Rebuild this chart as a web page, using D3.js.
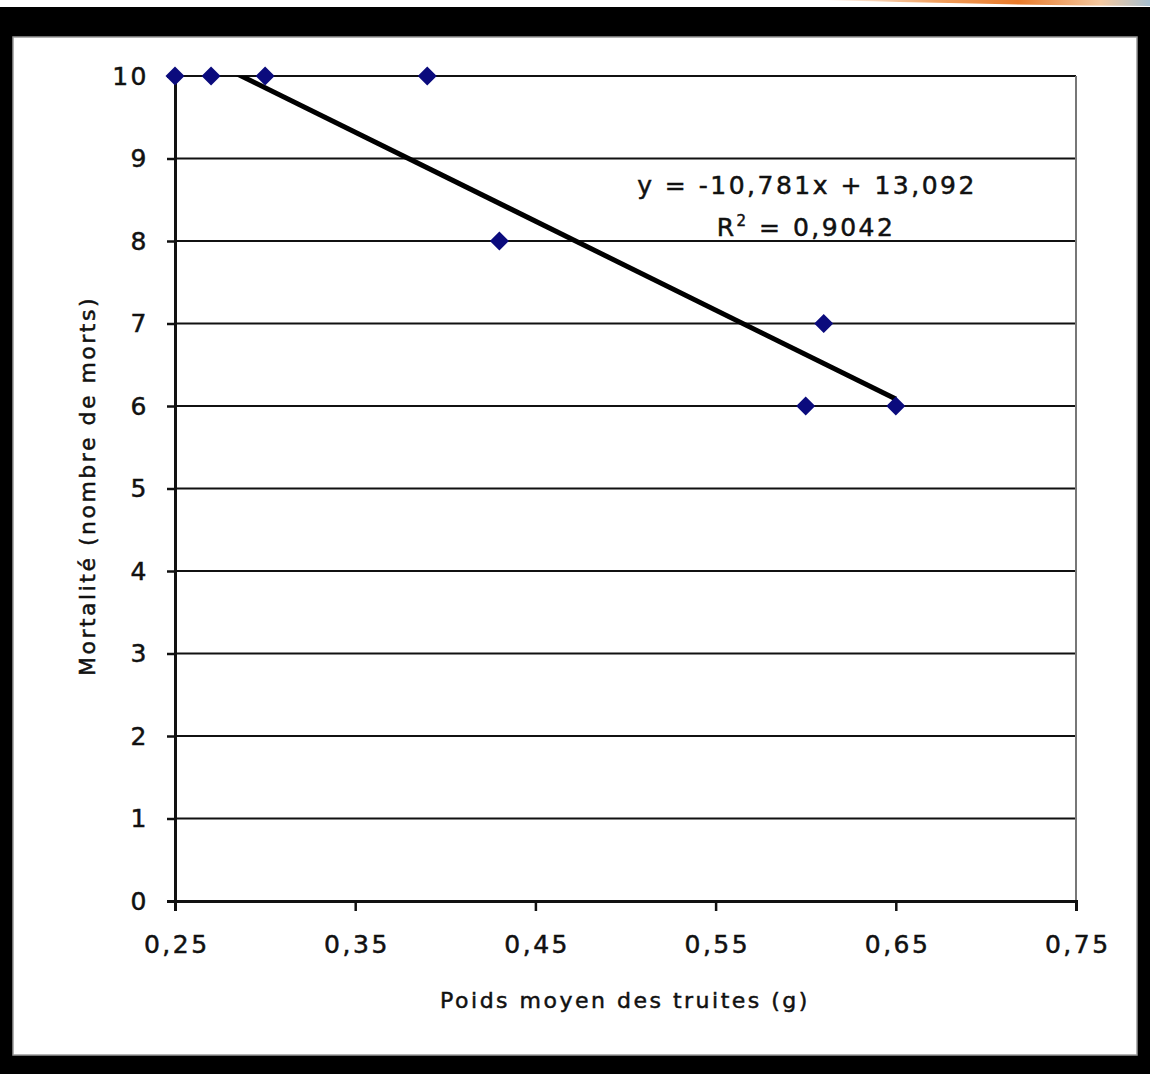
<!DOCTYPE html>
<html>
<head>
<meta charset="utf-8">
<script src="https://cdn.jsdelivr.net/npm/d3@7"></script>
<style>
  html, body { margin: 0; padding: 0; background: #000; }
  svg { display: block; }
  text { font-family: "DejaVu Sans", Verdana, sans-serif; fill: #111; stroke: #111; stroke-width: 0.5px; }
</style>
</head>
<body>
<svg id="chart" width="1150" height="1074"></svg>
<script>
// ---- data ----
const poids = [0.25, 0.27, 0.30, 0.39, 0.43, 0.60, 0.61, 0.65];
const morts = [10, 10, 10, 10, 8, 6, 7, 6];
const xTicks = [0.25, 0.35, 0.45, 0.55, 0.65, 0.75];
const yTicks = [0, 1, 2, 3, 4, 5, 6, 7, 8, 9, 10];
const slope = -10.781;
const intercept = 13.092;
const eqLabel = "y = -10,781x +  13,092";
const r2Label = "0,9042";
const xTitle = "Poids moyen des truites (g)";
const yTitle = "Mortalité (nombre de morts)";

const svg = d3.select("#chart");

// frame
svg.append("rect").attr("x", 0).attr("y", 0).attr("width", 1150).attr("height", 7).attr("fill", "#fff");
const grad = svg.append("defs").append("linearGradient").attr("id", "sw").attr("x1", "0").attr("x2", "1");
grad.append("stop").attr("offset", "0").attr("stop-color", "#fff");
grad.append("stop").attr("offset", "0.35").attr("stop-color", "#f0a060");
grad.append("stop").attr("offset", "0.6").attr("stop-color", "#e87a2a");
grad.append("stop").attr("offset", "0.85").attr("stop-color", "#f4c8a0");
grad.append("stop").attr("offset", "1").attr("stop-color", "#a8c0d0");
svg.append("path").attr("d", "M820,0 L1150,0 L1150,6 C1050,6 950,3 820,0 Z").attr("fill", "url(#sw)");
svg.append("rect").attr("x", 13).attr("y", 37).attr("width", 1124).attr("height", 1018)
  .attr("fill", "#fff").attr("stroke", "#999").attr("stroke-width", 1.5);

const x = d3.scaleLinear().domain([0.25, 0.75]).range([175, 1076]);
const y = d3.scaleLinear().domain([0, 10]).range([901, 76]);

// gridlines
svg.append("g").selectAll("line").data(yTicks.filter(d => d > 0)).join("line")
  .attr("x1", x(0.25)).attr("x2", x(0.75))
  .attr("y1", d => y(d)).attr("y2", d => y(d))
  .attr("stroke", "#111").attr("stroke-width", 2.2);

// right border
svg.append("line").attr("x1", x(0.75)).attr("x2", x(0.75)).attr("y1", y(10)).attr("y2", y(0))
  .attr("stroke", "#777").attr("stroke-width", 2);

// axes
const xAxis = d3.axisBottom(x).tickValues(xTicks).tickSize(10).tickPadding(24)
  .tickFormat(d => d3.format(".2f")(d).replace(".", ","));
const gx = svg.append("g").attr("transform", `translate(0,${y(0)})`).call(xAxis);
gx.select(".domain").attr("stroke", "#111").attr("stroke-width", 3);
gx.selectAll(".tick line").attr("stroke", "#111").attr("stroke-width", 2.5);
gx.selectAll(".tick text").attr("font-size", 25).attr("letter-spacing", 2.5)
  .attr("font-family", "DejaVu Sans").attr("fill", "#111").attr("dx", 1.25);

const yAxis = d3.axisLeft(y).tickValues(yTicks).tickSize(8).tickPadding(18).tickFormat(d3.format("d"));
const gy = svg.append("g").attr("transform", `translate(${x(0.25)},0)`).call(yAxis);
gy.select(".domain").attr("stroke", "#111").attr("stroke-width", 3);
gy.selectAll(".tick line").attr("stroke", "#111").attr("stroke-width", 2.5);
gy.selectAll(".tick text").attr("font-size", 25).attr("letter-spacing", 2.5)
  .attr("font-family", "DejaVu Sans").attr("fill", "#111");

// trendline (clipped to plot area)
svg.append("clipPath").attr("id", "plotclip").append("rect")
  .attr("x", x(0.25)).attr("y", y(10)).attr("width", x(0.75) - x(0.25)).attr("height", y(0) - y(10));
const tx = [0.25, 0.65];
svg.append("path").attr("clip-path", "url(#plotclip)")
  .attr("d", d3.line().x(d => x(d)).y(d => y(slope * d + intercept))(tx))
  .attr("stroke", "#000").attr("stroke-width", 5).attr("fill", "none");

// markers
svg.append("g").selectAll("path").data(poids.map((p, i) => [p, morts[i]])).join("path")
  .attr("transform", d => `translate(${x(d[0])},${y(d[1])})`)
  .attr("d", "M0,-9.5L9.5,0L0,9.5L-9.5,0Z")
  .attr("fill", "#0b0b7d");

// equation label
svg.append("text").attr("x", 807).attr("y", 194).attr("text-anchor", "middle")
  .attr("font-size", 25).attr("letter-spacing", 2.5).text(eqLabel);
const r2 = svg.append("text").attr("x", 806).attr("y", 236).attr("text-anchor", "middle")
  .attr("font-size", 25).attr("letter-spacing", 2.5);
r2.append("tspan").text("R");
r2.append("tspan").attr("dy", -10).attr("font-size", 15).text("2");
r2.append("tspan").attr("dy", 10).text(" = " + r2Label);

// axis titles
svg.append("text").attr("x", 625).attr("y", 1008).attr("text-anchor", "middle")
  .attr("font-size", 22).attr("letter-spacing", 2.5).text(xTitle);
svg.append("text").attr("transform", "translate(95,486) rotate(-90)").attr("text-anchor", "middle")
  .attr("font-size", 22).attr("letter-spacing", 2.5).text(yTitle);
</script>
</body>
</html>
